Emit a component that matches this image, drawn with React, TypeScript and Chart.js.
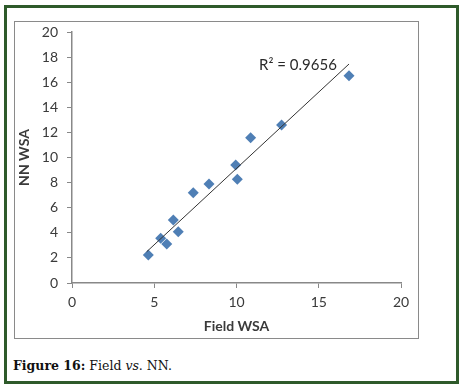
import React, { useEffect, useRef } from "react";
import { Chart, registerables } from "chart.js";

Chart.register(...registerables);

const fieldWSA = [4.64, 5.39, 5.76, 6.16, 6.46, 7.37, 8.33, 9.95, 10.05, 10.86, 12.74, 16.84];
const nnWSA = [2.23, 3.56, 3.11, 5.02, 4.09, 7.2, 7.89, 9.4, 8.26, 11.58, 12.59, 16.52];
const trendX = [4.54, 16.84];
const trendY = [2.49, 17.45];
const r2Label = "R² = 0.9656";
const r2Pos = [16.1, 17.37];
const xTitle = "Field WSA";
const yTitle = "NN WSA";

const labelFont = "Lato, 'Open Sans', sans-serif";

export default function App() {
  const ref = useRef<HTMLCanvasElement | null>(null);

  useEffect(() => {
    if (!ref.current) return;
    const r2Plugin = {
      id: "r2",
      afterDatasetsDraw(chart: any) {
        const { ctx, scales } = chart;
        const x = scales.x.getPixelForValue(r2Pos[0]);
        const y = scales.y.getPixelForValue(r2Pos[1]);
        ctx.save();
        ctx.font = `15px ${labelFont}`;
        ctx.fillStyle = "#2a2a2a";
        ctx.textAlign = "right";
        ctx.textBaseline = "middle";
        ctx.fillText(r2Label, x, y);
        ctx.restore();
      },
    };
    const chart = new Chart(ref.current, {
      type: "scatter",
      data: {
        datasets: [
          {
            label: "data",
            data: fieldWSA.map((v, i) => ({ x: v, y: nnWSA[i] })),
            pointStyle: "rectRot",
            pointRadius: 5.5,
            pointBackgroundColor: "#4f7fb5",
            pointBorderColor: "#4f7fb5",
            pointBorderWidth: 0,
            showLine: false,
            order: 2,
          },
          {
            label: "trend",
            data: trendX.map((v, i) => ({ x: v, y: trendY[i] })),
            showLine: true,
            borderColor: "#333333",
            borderWidth: 1,
            pointRadius: 0,
            order: 1,
          },
        ],
      },
      options: {
        animation: false,
        responsive: false,
        maintainAspectRatio: false,
        layout: { padding: { left: 0, top: 32, right: 63, bottom: 54 } },
        plugins: { legend: { display: false }, tooltip: { enabled: false } },
        scales: {
          x: {
            type: "linear",
            min: 0,
            max: 20,
            afterFit: (s: any) => {
              s.height = 52;
            },
            ticks: { stepSize: 5, color: "#3a3a3a", font: { family: labelFont, size: 14 }, padding: 6 },
            grid: { drawOnChartArea: false, drawTicks: true, tickLength: 5, color: "#888888" },
            border: { display: true, color: "#888888", width: 1.5 },
            title: {
              display: true,
              text: xTitle,
              color: "#3a3a3a",
              font: { family: labelFont, size: 14, weight: "bold" },
              padding: { top: 0, bottom: 0 },
            },
          },
          y: {
            type: "linear",
            min: 0,
            max: 20,
            afterFit: (s: any) => {
              s.width = 72;
            },
            ticks: { stepSize: 2, color: "#3a3a3a", font: { family: labelFont, size: 14 }, padding: 9 },
            grid: { drawOnChartArea: false, drawTicks: true, tickLength: 5, color: "#888888" },
            border: { display: true, color: "#888888", width: 1.5 },
            title: {
              display: true,
              text: yTitle,
              color: "#3a3a3a",
              font: { family: labelFont, size: 14, weight: "bold" },
              padding: { top: 16, bottom: 0 },
            },
          },
        },
      },
      plugins: [r2Plugin],
    });
    return () => chart.destroy();
  }, []);

  return (
    <div style={{ position: "absolute", left: 0, top: 0, width: 464, height: 389, background: "#fff" }}>
      <div
        style={{
          position: "absolute",
          left: 4,
          top: 5,
          width: 449,
          height: 373,
          border: "3px solid #2e5a2a",
        }}
      />
      <div
        style={{
          position: "absolute",
          left: 14,
          top: 21,
          width: 403,
          height: 316,
          border: "1.5px solid #8a8a8a",
        }}
      />
      <div
        style={{
          position: "absolute",
          left: 13,
          top: 358,
          fontFamily: "'DejaVu Serif', serif",
          fontSize: 12.5,
          color: "#111",
          whiteSpace: "nowrap",
          lineHeight: "16px",
        }}
      >
        <b>Figure 16:</b> Field <i>vs</i>. NN.
      </div>
      <canvas
        ref={ref}
        width={464}
        height={389}
        style={{ position: "absolute", left: 0, top: 0, width: 464, height: 389 }}
      />
    </div>
  );
}
